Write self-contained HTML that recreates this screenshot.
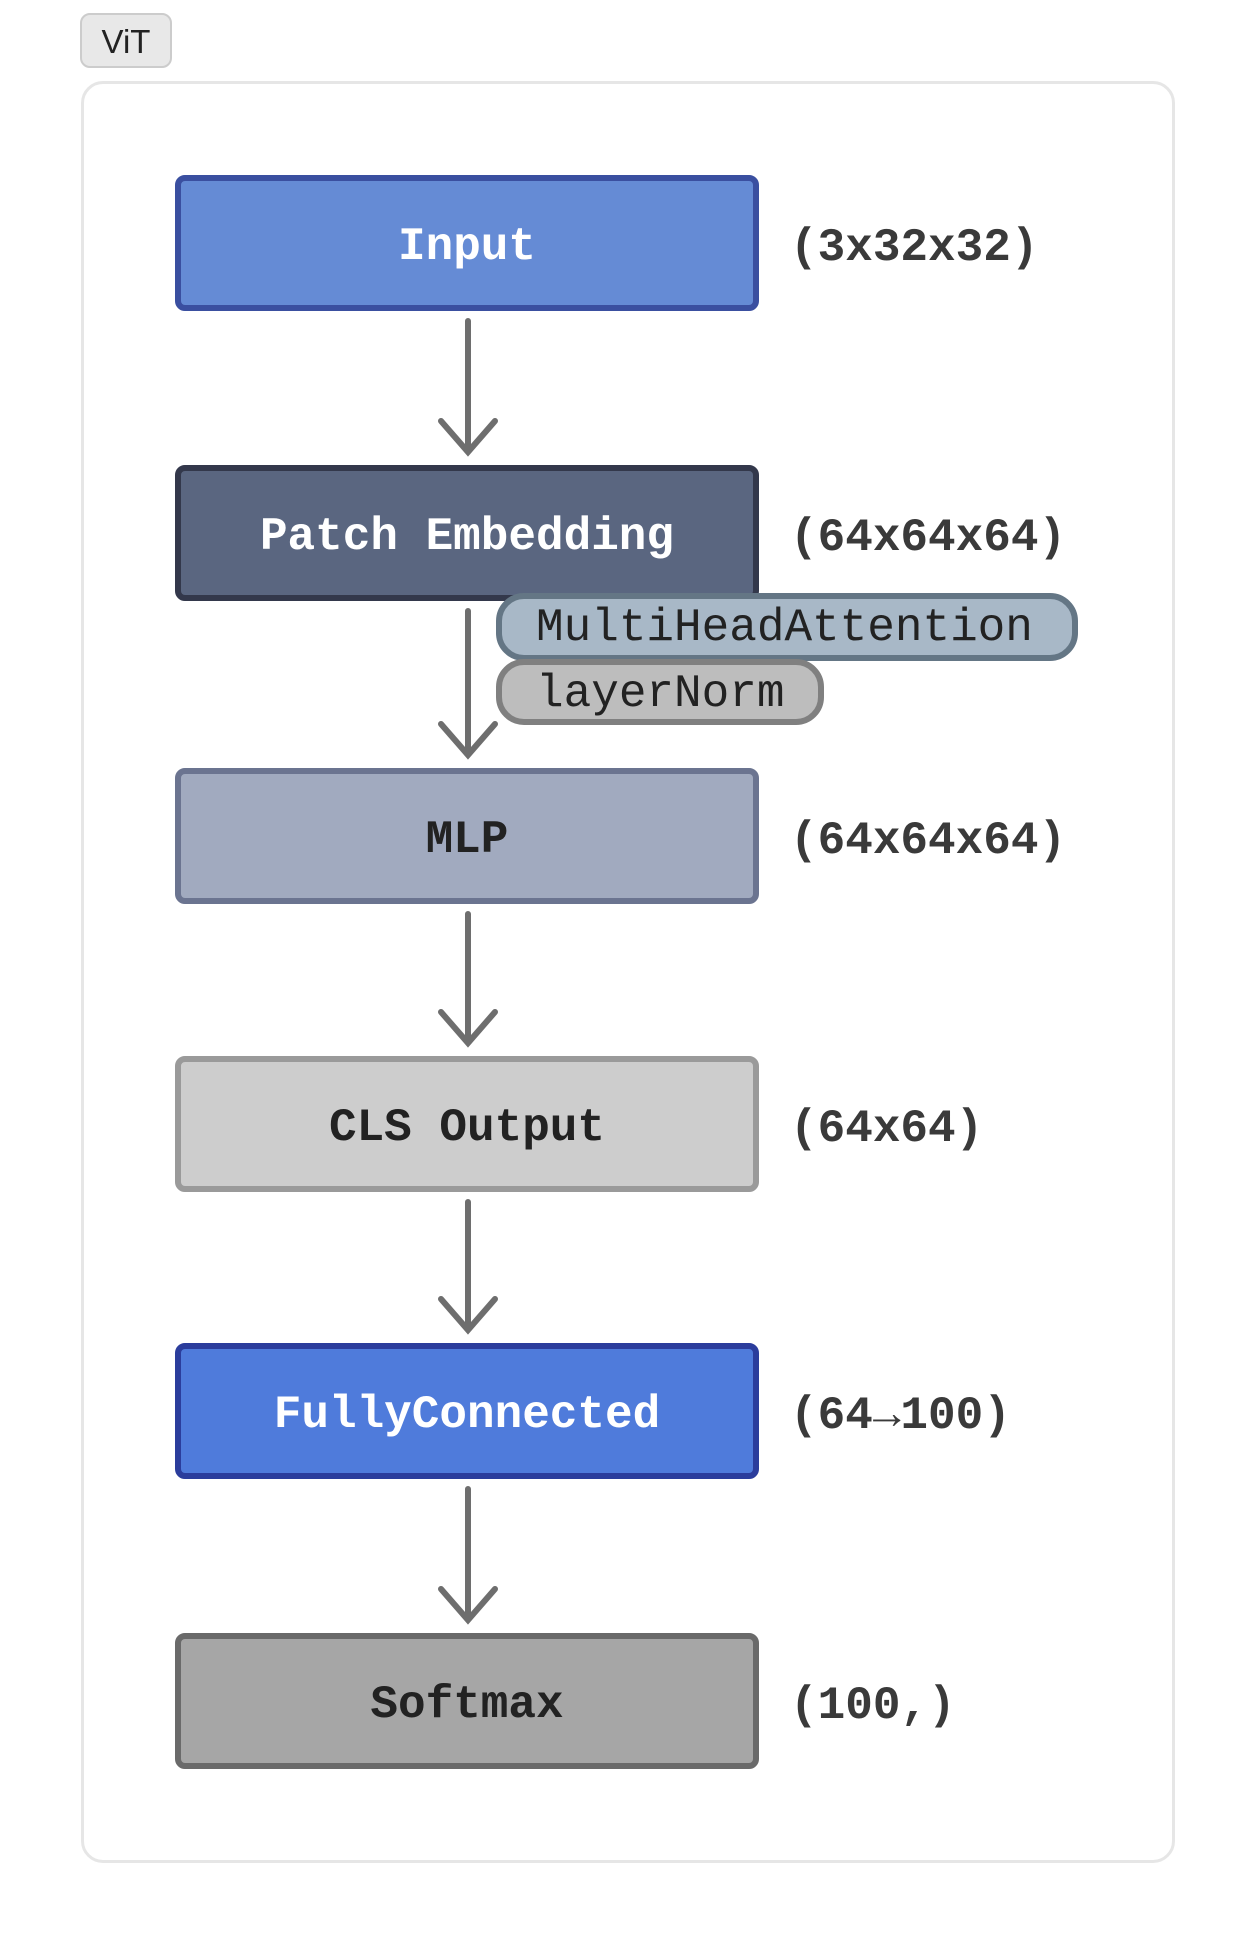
<!DOCTYPE html>
<html><head><meta charset="utf-8"><style>
body{margin:0;width:1256px;height:1944px;background:#fff;position:relative;overflow:hidden;font-family:"Liberation Mono",monospace}
.a{position:absolute;box-sizing:border-box}
.box{left:175px;width:584px;height:136px;border:6px solid;border-radius:10px;display:flex;align-items:center;justify-content:center;font-size:46px;font-weight:bold;padding-top:8px}
.lab{left:790px;font-size:46px;font-weight:bold;color:#3a3a3a;height:136px;line-height:146px}
.tag{border:6px solid;border-radius:28px;font-size:46px;color:#222;padding-left:34px;line-height:58px}
</style></head><body>
<div class="a" style="left:80px;top:13px;width:92px;height:55px;border:2px solid #ccc;background:#e8e8e8;border-radius:10px;font-family:'Liberation Sans',sans-serif;font-size:33px;text-align:center;line-height:53px;color:#222">ViT</div>
<div class="a" style="left:81px;top:81px;width:1094px;height:1782px;border:3px solid #e6e6e6;border-radius:22px"></div>
<svg class="a" style="left:0;top:0" width="1256" height="1944">
<g stroke="#6e6e6e" stroke-width="6" fill="none" stroke-linecap="round">
<path d="M468 321V452M441 421L468 452L495 421"/>
<path d="M468 611V755M441 724L468 755L495 724"/>
<path d="M468 914V1043M441 1012L468 1043L495 1012"/>
<path d="M468 1202V1330M441 1299L468 1330L495 1299"/>
<path d="M468 1489V1620M441 1589L468 1620L495 1589"/>
</g></svg>
<div class="a box" style="top:175px;background:#658bd5;border-color:#3a4fa0;color:#fff">Input</div>
<div class="a lab" style="top:175px">(3x32x32)</div>
<div class="a box" style="top:465px;background:#5a6680;border-color:#33384b;color:#fff">Patch Embedding</div>
<div class="a lab" style="top:465px">(64x64x64)</div>
<div class="a box" style="top:768px;background:#a1aabf;border-color:#6b7490;color:#222">MLP</div>
<div class="a lab" style="top:768px">(64x64x64)</div>
<div class="a box" style="top:1056px;background:#cdcdcd;border-color:#9a9a9a;color:#222">CLS Output</div>
<div class="a lab" style="top:1056px">(64x64)</div>
<div class="a box" style="top:1343px;background:#4f7bdb;border-color:#2b3d9c;color:#fff">FullyConnected</div>
<div class="a lab" style="top:1343px">(64→100)</div>
<div class="a box" style="top:1633px;background:#a6a6a6;border-color:#6a6a6a;color:#222">Softmax</div>
<div class="a lab" style="top:1633px">(100,)</div>
<div class="a tag" style="left:496px;top:593px;width:582px;height:68px;background:#a8b8c7;border-color:#647685">MultiHeadAttention</div>
<div class="a tag" style="left:496px;top:659px;width:328px;height:66px;background:#bdbdbd;border-color:#808080">layerNorm</div>
</body></html>
